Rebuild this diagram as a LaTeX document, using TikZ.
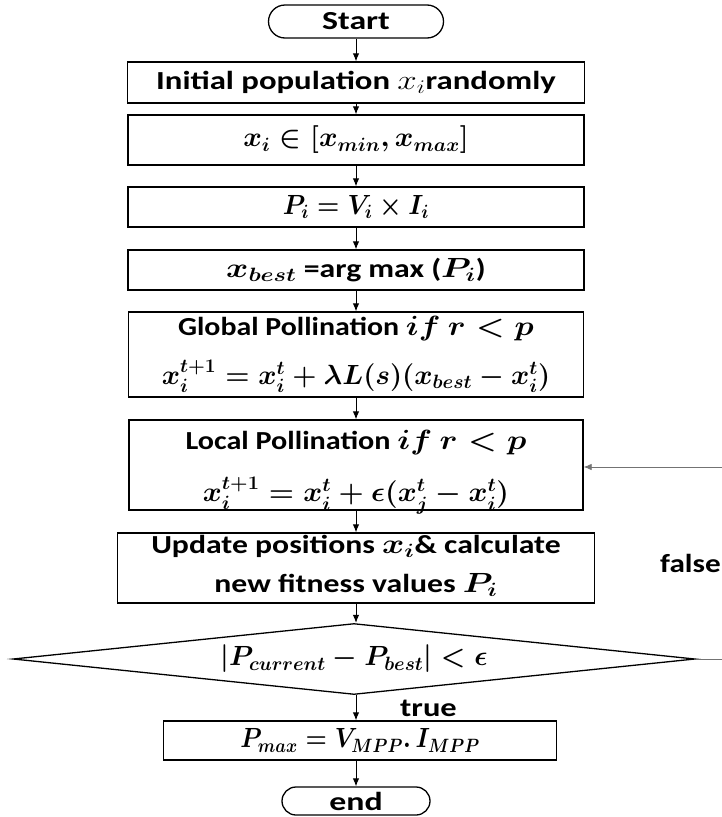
\documentclass[tikz,border=0pt]{standalone}
\usepackage{amsmath}
\usepackage{graphicx}
\usepackage{fontspec}
\setmainfont{Carlito}
\usetikzlibrary{shapes.geometric,arrows.meta}

\newcommand{\flowfont}{\fontsize{26}{30}\selectfont\bfseries\boldmath}
% widen a line of text horizontally by a given factor
\newcommand{\wide}[2]{\scalebox{#1}[1]{#2}}
% formulas are drawn a little larger than the words around them
\newcommand{\fm}[1]{\scalebox{1.115}{$#1$}}
\newcommand{\fmlight}[1]{\scalebox{1.115}{\unboldmath$#1$}}

\tikzset{
  every node/.style={font=\flowfont, inner sep=0pt, align=center},
  procbox/.style={draw, line width=1.3pt, rectangle},
  termbox/.style={draw, line width=1.3pt, rectangle},
  decbox/.style={draw, line width=1.3pt, diamond, aspect=9.6},
  arr/.style={-{Latex[length=8pt,width=6.5pt]}, line width=1pt},
  backarr/.style={-{Latex[length=8pt,width=6.5pt]}, line width=0.8pt, draw=black!55},
  lbl/.style={}
}

\begin{document}
\begin{tikzpicture}[x=1pt,y=-1pt]
\useasboundingbox (0,0) rectangle (722,817);
\clip (0,0) rectangle (722,817);

% terminals and process boxes
\node[termbox, rounded corners=16.5pt, minimum width=175pt, minimum height=33pt] (start) at (356,21.5) {\wide{1.3}{Start}};
\node[procbox, minimum width=457pt, minimum height=41pt] (init) at (356,82.5)
  {\wide{1.26}{Initial population \fmlight{x_i}randomly}};
\node[procbox, minimum width=456pt, minimum height=50pt] (range) at (356,140)
  {\wide{1.02}{\fm{x_i \in [x_{min}, x_{max}]}}};
\node[procbox, minimum width=456pt, minimum height=40pt] (power) at (356,207)
  {\wide{0.92}{\fm{P_i = V_i \times I_i}}};
\node[procbox, minimum width=456pt, minimum height=40pt] (best) at (356,270)
  {\wide{1.22}{\fm{x_{best}} =arg max (\fm{P_i})}};
\node[procbox, minimum width=455pt, minimum height=85pt] (global) at (356,354.5)
  {\wide{1.15}{Global Pollination \fm{if\ r < p}}\\[18pt]
   \wide{1.0}{\fm{x_i^{t+1} = x_i^t + \lambda L(s)(x_{best} - x_i^t)}}};
\node[procbox, minimum width=454pt, minimum height=90pt] (local) at (356,465) {};
\node (localtext) at (356,472)
  {\wide{1.16}{Local Pollination \fm{if\ r < p}}\\[21pt]
   \wide{1.04}{\fm{x_i^{t+1} = x_i^t + \epsilon(x_j^t - x_i^t)}}};
\node[procbox, minimum width=477pt, minimum height=70pt] (update) at (356,568) {};
\node (updatetext) at (356,565.5)
  {\wide{1.22}{Update positions \fm{x_i}\& calculate}\\[9pt]
   \wide{1.22}{new fitness values \fm{P_i}}};
\node[decbox, minimum width=682pt, minimum height=71pt] (check) at (354,659)
  {\wide{0.99}{\fm{|P_{current} - P_{best}| < \epsilon}}};
\node[procbox, minimum width=393pt, minimum height=39pt] (pmax) at (360,740.5)
  {\wide{0.88}{\fm{P_{max} = V_{MPP}.\,I_{MPP}}}};
\node[termbox, rounded corners=14pt, minimum width=148pt, minimum height=28pt] (stop) at (356,801)
  {\wide{1.3}{end}};

% branch labels
\node[lbl, anchor=west] (truelbl) at (400,708) {\wide{1.25}{true}};
\node[lbl, anchor=east] (falselbl) at (721,563) {\wide{1.2}{false}};

% main flow
\draw[arr] (start) -- (init);
\draw[arr] (init) -- (range);
\draw[arr] (range) -- (power);
\draw[arr] (power) -- (best);
\draw[arr] (best) -- (global);
\draw[arr] (global) -- (local);
\draw[arr] (local) -- (update);
\draw[arr] (update) -- (update |- check.north);
\draw[arr] (check.south -| stop) -- (pmax.north -| stop);
\draw[arr] (pmax.south -| stop) -- (stop);

% loop back when not converged
\coordinate (loopcorner) at (740,467);
\draw[backarr] (check.east) -- (check.east -| loopcorner) -- (loopcorner) -- (local.east |- loopcorner);
\end{tikzpicture}
\end{document}
